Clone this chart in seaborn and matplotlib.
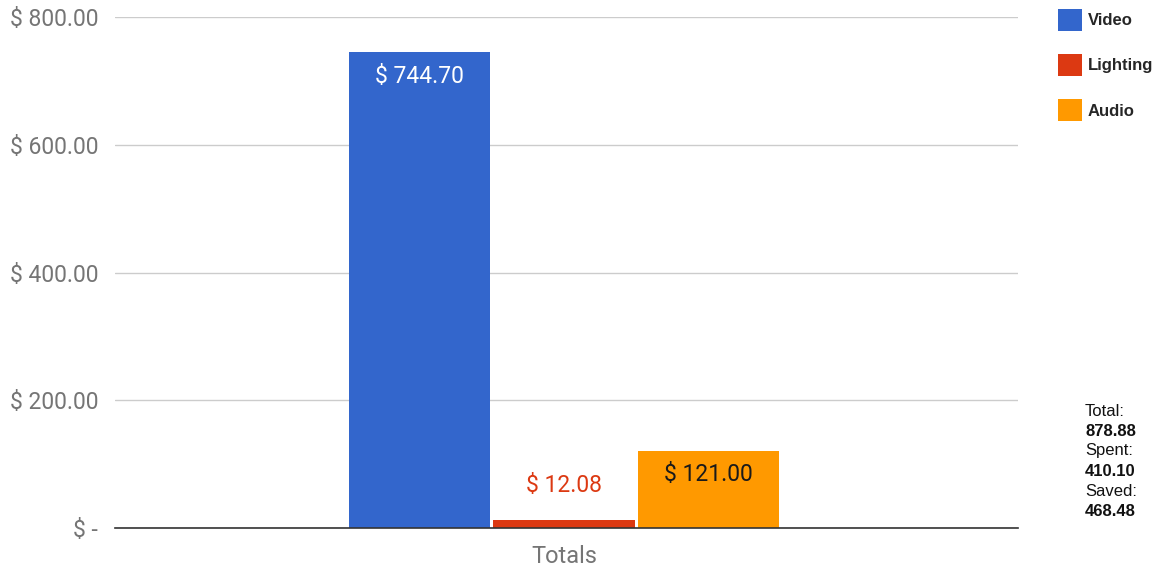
import pandas as pd
import seaborn as sns
import matplotlib.pyplot as plt
import matplotlib.ticker as mtick
from matplotlib.patches import Patch

# ----------------------------
# Data
# ----------------------------
categories = ["Video", "Lighting", "Audio"]
totals = [744.70, 12.08, 121.00]
group_label = "Totals"
summary_labels = ["Total:", "Spent:", "Saved:"]
summary_values = ["878.88", "410.10", "468.48"]

COLORS = {"Video": "#3366CC", "Lighting": "#DC3912", "Audio": "#FF9900"}
LABEL_COLORS = {"Video": "white", "Lighting": "#DC3912", "Audio": "#1a1a1a"}

df = pd.DataFrame({"group": [group_label] * len(categories),
                   "category": categories,
                   "amount": totals})

# ----------------------------
# Style
# ----------------------------
sns.set_theme(style="white")
plt.rcParams["font.family"] = ["Roboto", "DejaVu Sans"]


def fmt_dollars(x, pos):
    if abs(x) < 1e-9:
        return "$ -"
    return f"$ {x:,.2f}"


fig = plt.figure(figsize=(11.57, 5.66), dpi=100)
ax = fig.add_axes([0.0994, 0.0671, 0.7806, 0.9029])

sns.barplot(
    data=df,
    x="group",
    y="amount",
    hue="category",
    hue_order=categories,
    palette=COLORS,
    width=0.48,
    gap=0.02,
    saturation=1,
    linewidth=0,
    legend=False,
    ax=ax,
)

ax.set_ylim(0, 800)
ax.set_xlim(-0.497, 0.503)
ax.set_yticks([0, 200, 400, 600, 800])
ax.yaxis.set_major_formatter(mtick.FuncFormatter(fmt_dollars))
ax.set_xlabel("")
ax.set_ylabel("")
ax.grid(axis="y", color="#cccccc", linewidth=1)
ax.set_axisbelow(True)
ax.tick_params(axis="y", length=0, pad=12, labelsize=16.5, labelcolor="#757575")
ax.tick_params(axis="x", length=0, pad=12, labelsize=17, labelcolor="#757575")

for side in ["top", "right", "left"]:
    ax.spines[side].set_visible(False)
ax.spines["bottom"].set_color("#333333")
ax.spines["bottom"].set_linewidth(1.2)

# Value labels
for bar, cat, val in zip(ax.patches, categories, totals):
    cx = bar.get_x() + bar.get_width() / 2
    txt = f"$ {val:,.2f}"
    offset = -24 if val > 60 else 35
    ax.annotate(txt, (cx, val), xytext=(0, offset), textcoords="offset pixels",
                ha="center", va="center", fontsize=16.5,
                color=LABEL_COLORS[cat])

# Legend
handles = [Patch(facecolor=COLORS[c], edgecolor="none", label=c) for c in categories]
fig.legend(
    handles=handles,
    loc="upper left",
    bbox_to_anchor=(1051 / 1157, 1 - 2 / 566),
    frameon=False,
    prop={"family": "Liberation Sans", "weight": "bold", "size": 12},
    handlelength=1.45,
    handleheight=1.65,
    handletextpad=0.35,
    labelspacing=1.4,
    borderaxespad=0,
)

# Summary block
y0 = 411
for i, (lab, val) in enumerate(zip(summary_labels, summary_values)):
    fig.text(1085 / 1157, 1 - (y0 + i * 40) / 566, lab, ha="left", va="center",
             family="Liberation Sans", fontsize=12, color="#111111")
    fig.text(1085 / 1157, 1 - (y0 + 20 + i * 40) / 566, val, ha="left", va="center",
             family="Liberation Sans", fontsize=12, weight="bold", color="#111111")

fig.savefig("out.png", dpi=100)
plt.close(fig)
